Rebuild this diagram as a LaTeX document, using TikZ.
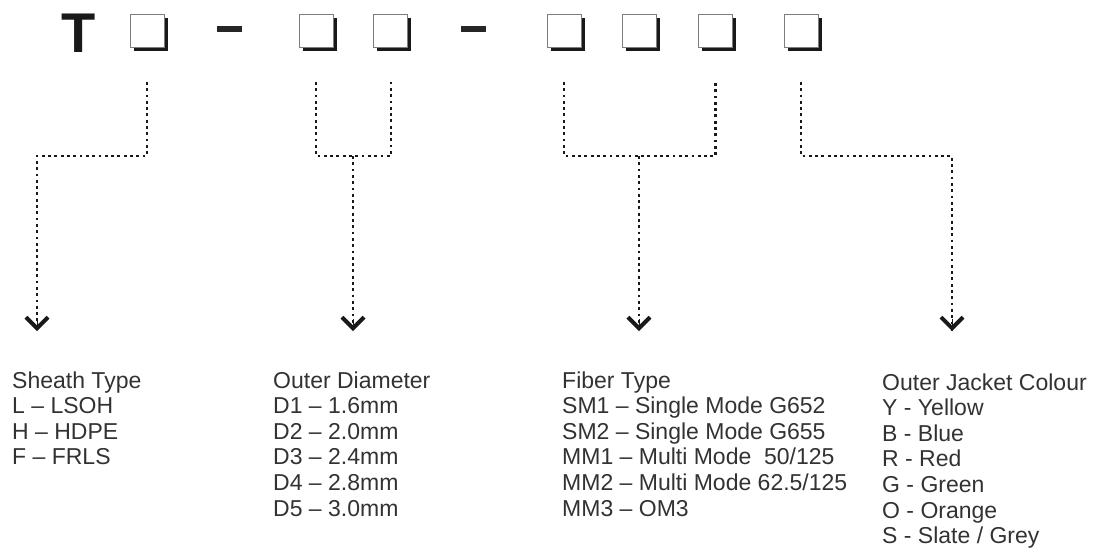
\documentclass[tikz,border=0pt]{standalone}
\usepackage{fontspec}
\setmainfont{Liberation Sans}
\usepackage{tikz}
\usetikzlibrary{arrows.meta, positioning, shadows}
\usepackage{xcolor}
\definecolor{legendtext}{RGB}{50,50,50}
\definecolor{boxedge}{RGB}{125,125,125}
\tikzset{
  codebox/.style={
    rectangle, draw=boxedge, line width=0.9pt, fill=white, inner sep=0pt,
    minimum width=34pt, minimum height=33pt,
    drop shadow={shadow xshift=3.5pt, shadow yshift=-3.5pt, fill=black!90, opacity=1}
  },
  sepbar/.style={rectangle, fill=black!85, minimum width=25pt, minimum height=6pt, inner sep=0pt},
  legend/.style={anchor=base west, align=left, inner sep=0pt, text=legendtext,
    font=\fontsize{23}{25.6}\selectfont},
  lead/.style={draw=black!90, line width=2.8pt, dash pattern=on 2.8pt off 3.5pt},
  leadtip/.style={draw=black!90, line width=0.1pt,
    -{Straight Barb[length=11pt, width=22pt, line width=4pt]}}
}

\begin{document}
\begin{tikzpicture}[x=1pt, y=-1pt]
  \useasboundingbox (0,0) rectangle (1098,550);

  % code line
  \node[anchor=base, inner sep=0pt, text=black!90,
        font=\fontsize{56}{56}\selectfont\bfseries] (tee) at (78.5,52) {T};
  \node[codebox] (b1) at (147,31) {};
  \node[sepbar] (sep1) at (229.5,29) {};
  \node[codebox] (b2) at (316,31) {};
  \node[codebox, right=40pt of b2] (b3) {};
  \node[sepbar] (sep2) at (473.5,29) {};
  \node[codebox] (b4) at (564,31) {};
  \node[codebox, right=41pt of b4] (b5) {};
  \node[codebox, right=41pt of b5] (b6) {};
  \node[codebox] (b7) at (801,31) {};

  % legends (base = last line)
  \node[legend] (sheath) at (12,464.8)
        {Sheath Type\\L – LSOH\\H – HDPE\\F – FRLS};
  \node[legend] (diameter) at (273,516)
        {Outer Diameter\\D1 – 1.6mm\\D2 – 2.0mm\\D3 – 2.4mm\\D4 – 2.8mm\\D5 – 3.0mm};
  \node[legend] (fiber) at (562,516)
        {Fiber Type\\SM1 – Single Mode G652\\SM2 – Single Mode G655\\
         MM1 – Multi Mode\ \ 50/125\\MM2 – Multi Mode 62.5/125\\MM3 – OM3};
  \node[legend] (jacket) at (882,543.6)
        {Outer Jacket Colour\\Y - Yellow\\B - Blue\\R - Red\\G - Green\\O - Orange\\S - Slate / Grey};

  \coordinate (bend) at (0,156);
  \coordinate (tip1) at (37,331);
  \coordinate (tip2) at (353,331);
  \coordinate (tip3) at (639,331);
  \coordinate (tip4) at (952,331);

  \draw[lead, shorten <=34pt] (b1.south) |- (bend -| tip1) -- (tip1);
  \draw[lead, shorten <=34pt, shorten >=34pt] (b2.south) |- (bend -| b3.south) -- (b3.south);
  \draw[lead] (bend -| tip2) -- (tip2);
  \draw[lead, shorten <=34pt, shorten >=34pt] (b4.south) |- (bend -| b6.south) -- (b6.south);
  \draw[lead] (bend -| tip3) -- (tip3);
  \draw[lead, shorten <=34pt] (b7.south) |- (bend -| tip4) -- (tip4);

  % chevron heads
  \foreach \t in {tip1,tip2,tip3,tip4}
    \draw[leadtip] ([yshift=12pt]\t) -- (\t);
\end{tikzpicture}
\end{document}
